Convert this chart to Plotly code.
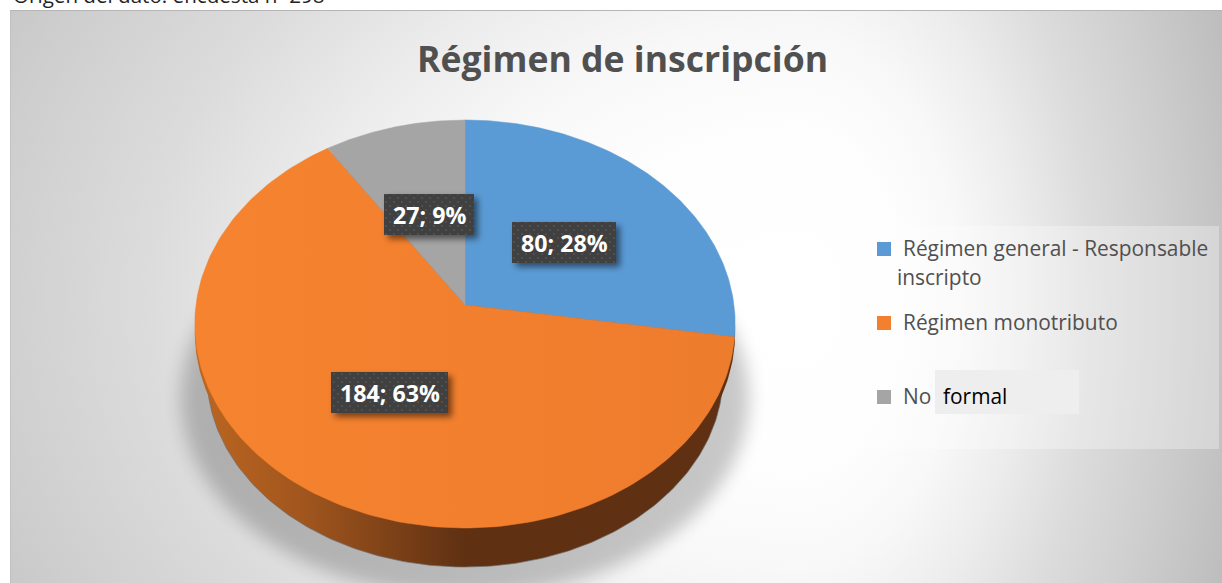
import base64
import numpy as np
import plotly.graph_objects as go

# ---- data ----
CATEGORIES = ["Régimen general - Responsable inscripto", "Régimen monotributo", "No formal"]
VALUES = [80, 184, 27]
PERCENTS = [28, 63, 9]
COLORS = ["#5B9BD5", "#F3802F", "#A5A5A5"]
TITLE = "Régimen de inscripción"
SOURCE = "Origen del dato: encuesta n=298"

W, H = 1222, 583
# perspective pie geometry (pixel-valued axes)
CX, CY, RX, RY, SKEW, VERT = 465, 324, 269, 204, 0.0931, 19


def rim(theta):
    """Map clockwise-from-top angle(s) (radians) on to the tilted pie's rim."""
    sx, cy = np.sin(theta), np.cos(theta)
    d = 1 + SKEW * cy
    return CX + RX * sx / d, CY - (RY * cy + VERT) / d


def svg_uri(s):
    return "data:image/svg+xml;base64," + base64.b64encode(s.encode()).decode()


STOPS = ('<stop offset="0" stop-color="#ffffff"/><stop offset="0.22" stop-color="#fefefe"/>'
         '<stop offset="0.36" stop-color="#f8f8f8"/><stop offset="0.5" stop-color="#ececec"/>'
         '<stop offset="0.65" stop-color="#dcdcdc"/><stop offset="0.82" stop-color="#cecece"/>'
         '<stop offset="1" stop-color="#bebebe"/>')
bg_svg = f'''<svg xmlns="http://www.w3.org/2000/svg" width="{W}" height="{H}" viewBox="0 0 {W} {H}">
<defs>
<radialGradient id="gl" gradientUnits="userSpaceOnUse" cx="0" cy="0" r="1" gradientTransform="translate(800 300) scale(1000 750)">{STOPS}</radialGradient>
<radialGradient id="gr" gradientUnits="userSpaceOnUse" cx="0" cy="0" r="1" gradientTransform="translate(800 300) scale(450 750)">{STOPS}</radialGradient>
<filter id="b" x="-20%" y="-20%" width="140%" height="140%"><feGaussianBlur stdDeviation="9"/></filter>
<clipPath id="c"><rect x="10" y="10" width="{W-10}" height="{H-10}"/></clipPath>
</defs>
<rect width="{W}" height="{H}" fill="#ffffff"/>
<rect x="10" y="10" width="790" height="{H-10}" fill="url(#gl)"/>
<rect x="800" y="10" width="{W-800}" height="{H-10}" fill="url(#gr)"/>
<rect x="10" y="10" width="{W-10}" height="1" fill="#b5b5b5"/>
<rect x="10" y="10" width="1" height="{H-10}" fill="#b5b5b5" opacity="0.5"/>
<g clip-path="url(#c)"><ellipse cx="465" cy="398" rx="284" ry="198" fill="#000000" opacity="0.21" filter="url(#b)"/></g>
<rect x="865" y="226" width="354" height="223" fill="#ffffff" opacity="0.3"/>
<rect x="935" y="370" width="144" height="44" fill="#eeeeee"/>
</svg>'''

BOXES = [(512, 222, 104, 41), (331, 372, 117, 41), (384, 194, 90, 41)]
rects = "".join(f'<rect x="{x}" y="{y}" width="{w}" height="{h}" fill="url(#p)"/>' for x, y, w, h in BOXES)
shads = "".join(f'<rect x="{x+4}" y="{y+4}" width="{w}" height="{h}" fill="#000" opacity="0.5" filter="url(#s)"/>' for x, y, w, h in BOXES)
over_svg = f'''<svg xmlns="http://www.w3.org/2000/svg" width="{W}" height="{H}" viewBox="0 0 {W} {H}">
<defs>
<filter id="s" x="-20%" y="-40%" width="140%" height="180%"><feGaussianBlur stdDeviation="3"/></filter>
<pattern id="p" width="8" height="8" patternUnits="userSpaceOnUse">
<rect width="8" height="8" fill="#404040"/>
<rect x="1" y="1" width="2" height="2" fill="#4f4f4f"/><rect x="5" y="5" width="2" height="2" fill="#4f4f4f"/>
</pattern>
</defs>{shads}{rects}</svg>'''

fig = go.Figure()

WALL = dict(type="horizontal", start=195, stop=735, colorscale=[
    [0, "#BD6620"], [0.2, "#A1561E"], [0.5, "#5F3012"], [1, "#5F3012"]])

# side wall: lower rim ellipse, shaded from left to right
t = np.linspace(0, 2 * np.pi, 361)
fig.add_trace(go.Scatter(
    x=CX + 258 * np.sin(t), y=375 + 192 * np.cos(t), mode="lines", fill="toself",
    line=dict(color="rgba(110,110,110,0.7)", width=1), fillgradient=WALL,
    hoverinfo="skip", showlegend=False))
# upper part of the wall: the top rim pushed down a little
wx, wy = rim(t)
fig.add_trace(go.Scatter(
    x=wx, y=wy + 8, mode="lines", fill="toself",
    line=dict(color="rgba(0,0,0,0)", width=0), fillgradient=WALL,
    hoverinfo="skip", showlegend=False))

# top face: slices follow the values
total = sum(VALUES)
start = 0.0
for name, v, col in zip(CATEGORIES, VALUES, COLORS):
    end = start + v / total * 2 * np.pi
    a = np.linspace(start, end, 180)
    rx, ry = rim(a)
    vx, vy = CX, CY - VERT
    fill = dict(fillcolor=col)
    if col == "#F3802F":
        fill = dict(fillgradient=dict(type="horizontal", start=195, stop=735,
                                      colorscale=[[0, "#F6832F"], [1, "#EE7C2D"]]))
    fig.add_trace(go.Scatter(
        x=np.r_[vx, rx, vx], y=np.r_[vy, ry, vy], mode="lines", fill="toself",
        line=dict(color=col, width=0.5), name=name,
        hovertemplate=f"{name}: {v}<extra></extra>", showlegend=False, **fill))
    start = end

# hand-placed legend keys
LEG_Y = [249, 323, 397]
fig.add_trace(go.Scatter(
    x=[884] * 3, y=LEG_Y, mode="markers", cliponaxis=False,
    marker=dict(symbol="square", size=14, color=COLORS, line=dict(width=0)),
    hoverinfo="skip", showlegend=False))

ann = []


def txt(x, y, s, size, color, anchor="left", bold=False, yanchor="middle"):
    ann.append(dict(x=x, y=y, xref="x", yref="y", text=f"<b>{s}</b>" if bold else s,
                    showarrow=False, xanchor=anchor, yanchor=yanchor,
                    font=dict(family="Open Sans", size=size, color=color)))


FS = 20.9
txt(622, 58, TITLE, 35.6, "#505050", "center", True)
txt(11, 11, SOURCE, 20.6, "#222222", "left", False, "bottom")
for (x, y, w, h), v, p in zip(BOXES, VALUES, PERCENTS):
    txt(x + w / 2, y + h / 2, f"{v}; {p}%", 23.2, "#ffffff", "center", True)

first, second = CATEGORIES[0].rsplit(" ", 1)
txt(901, 248, first, FS, "#505050")
txt(895, 277, second, FS, "#505050")
txt(901, 322, CATEGORIES[1], FS, "#505050")
no, formal = CATEGORIES[2].split(" ")
txt(901, 396, no, FS, "#505050")
txt(941, 396, formal, FS, "#000000")

fig.update_layout(
    width=W, height=H, margin=dict(l=0, r=0, t=0, b=0, pad=0),
    paper_bgcolor="rgba(0,0,0,0)", plot_bgcolor="rgba(0,0,0,0)",
    xaxis=dict(range=[0, W], visible=False, fixedrange=True),
    yaxis=dict(range=[H, 0], visible=False, fixedrange=True),
    annotations=ann, showlegend=False,
    images=[
        dict(source=svg_uri(bg_svg), xref="paper", yref="paper", x=0, y=1, sizex=1, sizey=1,
             xanchor="left", yanchor="top", sizing="stretch", layer="below"),
        dict(source=svg_uri(over_svg), xref="paper", yref="paper", x=0, y=1, sizex=1, sizey=1,
             xanchor="left", yanchor="top", sizing="stretch", layer="above"),
    ],
)
fig.write_html("out.html", config=dict(displayModeBar=False),
               post_script="document.body.style.margin='0';document.body.style.overflow='hidden';")
